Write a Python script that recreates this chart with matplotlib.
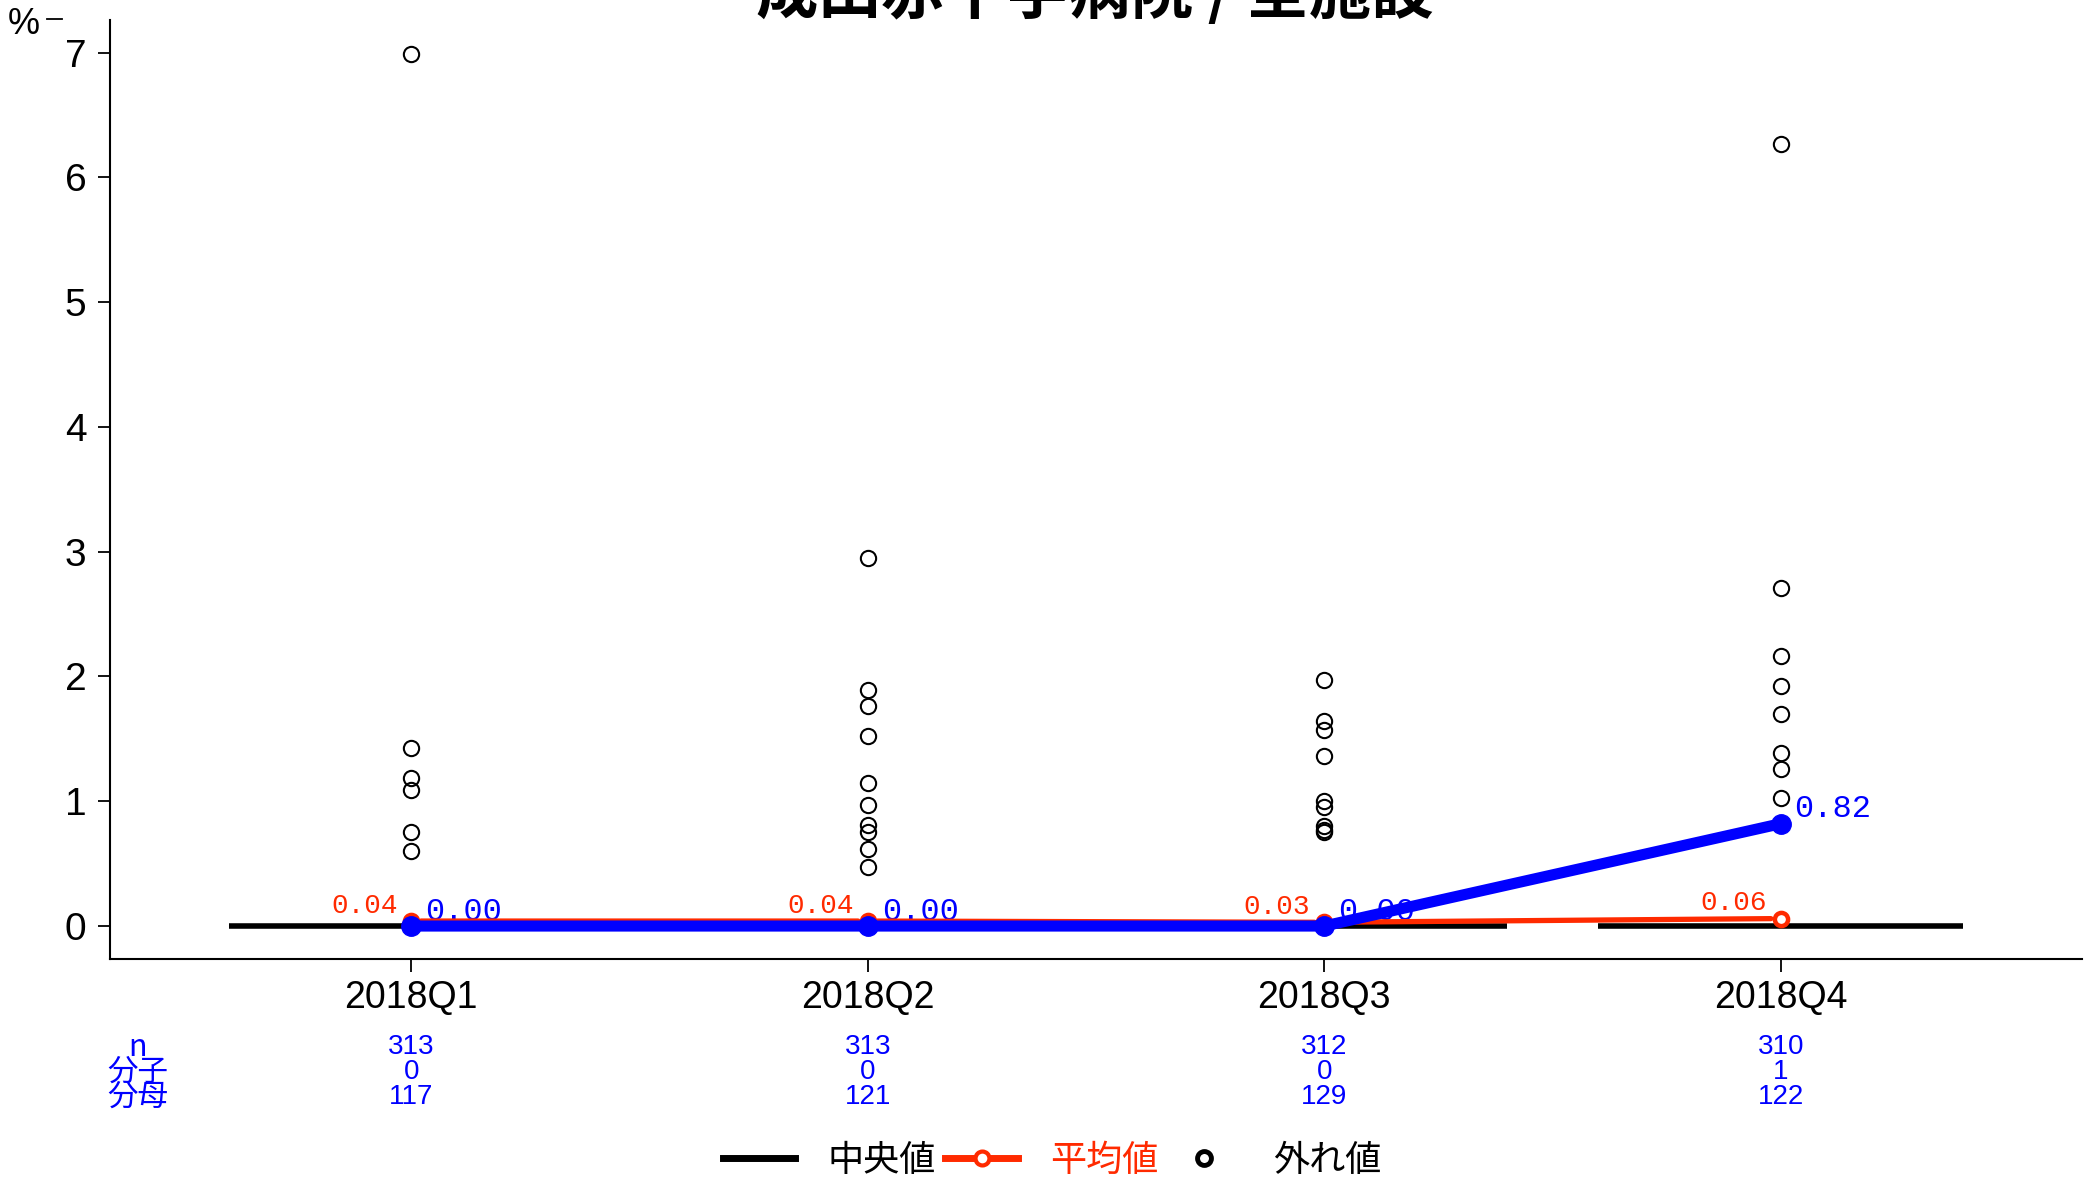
import matplotlib as mpl
import matplotlib.pyplot as plt
import matplotlib.transforms as mtransforms
import numpy as np
from matplotlib.lines import Line2D

SANS = ["Liberation Sans Narrow", "Liberation Sans", "DejaVu Sans"]
CJK = ["Noto Sans CJK JP", "DejaVu Sans"]
MONO = ["Liberation Mono", "DejaVu Sans Mono"]

mpl.rcParams.update(
    {
        "font.family": SANS,
        "axes.spines.top": False,
        "axes.spines.right": False,
        "axes.linewidth": 1.5,
    }
)

RED = "#ff2a00"
BLUE = "#0000ff"

# --- data --------------------------------------------------------------
quarters = ["2018Q1", "2018Q2", "2018Q3", "2018Q4"]
medians = [0.0, 0.0, 0.0, 0.0]
means = [0.04, 0.04, 0.03, 0.06]
hospital = [0.00, 0.00, 0.00, 0.82]
outliers = [
    [6.99, 1.43, 1.19, 1.09, 0.75, 0.60],
    [2.95, 1.89, 1.76, 1.52, 1.15, 0.97, 0.81, 0.75, 0.62, 0.47],
    [1.97, 1.64, 1.57, 1.36, 1.00, 0.95, 0.80, 0.77, 0.75],
    [6.27, 2.71, 2.16, 1.92, 1.70, 1.39, 1.26, 1.03],
]
n_count = [313, 313, 312, 310]
numer = [0, 0, 0, 1]
denom = [117, 121, 129, 122]
row_labels = ["n", "分子", "分母"]
title = "成田赤十字病院 / 全施設"

fig = plt.figure(figsize=(20.89, 11.8), dpi=100)
ax = fig.add_axes([0.0527, 0.1873, 0.9439, 0.7957])
x = np.arange(1, len(quarters) + 1)

# median bars (degenerate boxes)
ax.hlines(medians, x - 0.4, x + 0.4, color="black", lw=4, zorder=2)

# outliers
for xi, vals in zip(x, outliers):
    ax.plot([xi] * len(vals), vals, ls="none", marker="o", mfc="none",
            mec="black", ms=11, mew=1.5, zorder=3)

# mean line (R type="b": gaps around the points)
for i in range(len(x) - 1):
    ax.annotate("", xy=(x[i + 1], means[i + 1]), xytext=(x[i], means[i]),
                arrowprops=dict(arrowstyle="-", color=RED, lw=3.8,
                                shrinkA=7, shrinkB=7), zorder=4)
ax.plot(x, means, ls="none", marker="o", mfc="white", mec=RED, ms=9.5,
        mew=3.2, zorder=4)

# this hospital
ax.plot(x, hospital, color=BLUE, lw=8, marker="o", ms=14, zorder=5,
        solid_capstyle="round")

for xi, m, h in zip(x, means, hospital):
    ax.annotate(f"{m:.2f}", (xi, m), xytext=(-10, 6), textcoords="offset points",
                ha="right", va="baseline", color=RED, fontsize=20,
                family=MONO, zorder=1)
    ax.annotate(f"{h:.2f}", (xi, h), xytext=(10, 4.5), textcoords="offset points",
                ha="left", va="baseline", color=BLUE, fontsize=23,
                family=MONO, zorder=1)

ax.set_xlim(0.34, 4.66)
ax.set_ylim(-0.264, 7.26)
ax.set_xticks(x)
ax.set_xticklabels(quarters)
ax.set_yticks(range(0, 8))
ax.tick_params(axis="both", length=9, width=1.3, labelsize=28)
ax.tick_params(axis="x", labelsize=27, pad=6)
ax.tick_params(axis="y", pad=8)

# count table under the axis
trans = mtransforms.blended_transform_factory(ax.transData, fig.transFigure)
row_y = [0.1127, 0.0915, 0.0703]
for lab, yy in zip(row_labels, row_y):
    fig.text(0.066, yy, lab, ha="center", va="center", color=BLUE,
             fontsize=22, family=CJK)
for xi, a, b, c in zip(x, n_count, numer, denom):
    for val, yy in zip((a, b, c), row_y):
        ax.text(xi, yy, str(val), transform=trans, ha="center", va="center",
                color=BLUE, fontsize=20)

# title (partly above the canvas, as in the source)
fig.text(0.524, 1 - 26 / 1180, title, ha="center", va="bottom",
         fontsize=45, fontweight="bold", family=CJK)

# unit label
fig.text(24 / 2089, 1 - 25 / 1180, "%", ha="center", va="center", fontsize=26)
fig.add_artist(Line2D([47 / 2089, 62 / 2089], [1 - 19 / 1180, 1 - 19 / 1180],
                      color="black", lw=1.3))

handles = [
    Line2D([], [], color="black", lw=5),
    Line2D([], [], color=RED, lw=5, marker="o", mfc="white", mec=RED,
           ms=10, mew=3),
    Line2D([], [], ls="none", marker="o", mfc="none", mec="black", ms=10,
           mew=3.5),
]
leg = fig.legend(handles, ["中央値", "平均値", "外れ値"], loc="center",
                 bbox_to_anchor=(0.5036, 0.016), ncol=3, frameon=False,
                 prop={"family": CJK, "size": 26}, handlelength=2,
                 handletextpad=0.9, columnspacing=0.27, borderpad=0)
for t, c in zip(leg.get_texts(), ["black", RED, "black"]):
    t.set_color(c)

fig.savefig("out.png", dpi=100)
